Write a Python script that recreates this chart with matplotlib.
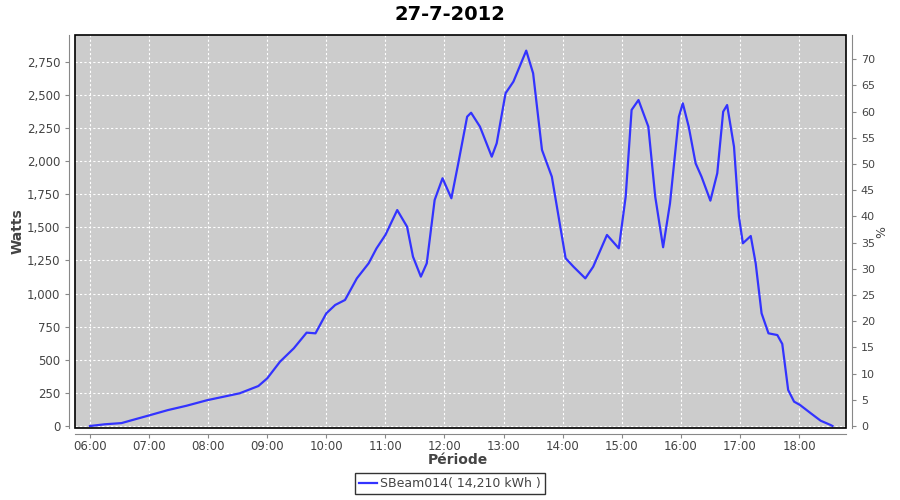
import matplotlib
matplotlib.use("Agg")
import matplotlib.pyplot as plt
from matplotlib.patches import Rectangle
from matplotlib.ticker import FuncFormatter
import numpy as np

# power readings (time of day, watts)
times = ["06:00", "06:15", "06:32", "06:43", "06:59", "07:19", "07:38", "07:59",
         "08:32", "08:51", "09:00", "09:13", "09:27", "09:40", "09:49", "10:00",
         "10:09", "10:19", "10:31", "10:43", "10:51", "11:00", "11:12", "11:22",
         "11:28", "11:36", "11:42", "11:50", "11:58", "12:07", "12:14", "12:23",
         "12:27", "12:36", "12:48", "12:53", "13:02", "13:10", "13:23", "13:30",
         "13:39", "13:49", "14:03", "14:11", "14:23", "14:31", "14:45", "14:57",
         "15:04", "15:10", "15:17", "15:27", "15:34", "15:42", "15:49", "15:58",
         "16:02", "16:08", "16:15", "16:21", "16:30", "16:37", "16:43", "16:47",
         "16:54", "16:59", "17:03", "17:11", "17:16", "17:22", "17:29", "17:38",
         "17:43", "17:49", "17:55", "18:01", "18:12", "18:22", "18:32", "18:34"]
watts = [0, 13, 22, 45, 78, 120, 153, 195,
         247, 302, 360, 486, 587, 705, 700, 851,
         914, 952, 1115, 1229, 1342, 1443, 1631, 1505,
         1279, 1128, 1229, 1707, 1871, 1720, 1984, 2336,
         2366, 2261, 2034, 2135, 2513, 2601, 2835, 2664,
         2085, 1883, 1267, 1203, 1115, 1203, 1443, 1342,
         1732, 2387, 2462, 2261, 1732, 1350, 1682, 2336,
         2437, 2261, 1984, 1883, 1702, 1909, 2374, 2424,
         2109, 1581, 1380, 1435, 1229, 851, 700, 687,
         620, 272, 184, 159, 96, 40, 8, 0]
hour_ticks = list(range(6, 19))
hour_labels = ["%02d:00" % h for h in hour_ticks]
watt_ticks = list(range(0, 2751, 250))
pct_ticks = list(range(0, 71, 5))
series_label = "SBeam014( 14,210 kWh )"

hours = np.array([int(t[:2]) + int(t[3:]) / 60 for t in times])

txt = "#444444"
axc = "#888888"

fig = plt.figure(figsize=(9, 5), dpi=100)
ax = fig.add_axes([0.0833, 0.144, 0.857, 0.786])
ax.set_facecolor("#CCCCCC")
ax.plot(hours, watts, color="#3333FF", linewidth=1.6, label=series_label)

ax.set_xlim(5.746, 18.80)
ax.set_ylim(-15, 2953)
ax.set_xticks(hour_ticks)
ax.set_xticklabels(hour_labels)
ax.set_yticks(watt_ticks)
ax.yaxis.set_major_formatter(FuncFormatter(lambda v, p: "{:,.0f}".format(v)))
ax.grid(True, color="white", linestyle=(0, (2, 2)), linewidth=0.8)
ax.set_axisbelow(True)

for s in ["top", "right"]:
    ax.spines[s].set_visible(False)
for s in ["left", "bottom"]:
    ax.spines[s].set_position(("outward", 4))
    ax.spines[s].set_color(axc)
ax.tick_params(colors=axc, labelcolor=txt, labelsize=8.5, length=3, width=0.8)
ax.tick_params(axis="x", pad=1.5)

ax.add_patch(Rectangle((0, 0), 1, 1, transform=ax.transAxes, fill=False,
                       edgecolor="black", linewidth=1.2, clip_on=False, zorder=5))

ax.set_ylabel("Watts", fontsize=10, fontweight="bold", color=txt)
ax.yaxis.set_label_coords(-0.065, 0.5)
ax.set_xlabel("Période", fontsize=10, fontweight="bold", color=txt)
ax.xaxis.set_label_coords(0.497, -0.064)

ax2 = ax.twinx()
ax2.set_ylim(-0.38, 74.6)
ax2.set_yticks(pct_ticks)
for s in ["top", "left", "bottom"]:
    ax2.spines[s].set_visible(False)
ax2.spines["right"].set_position(("outward", 4))
ax2.spines["right"].set_color(axc)
ax2.tick_params(colors=axc, labelcolor=txt, labelsize=8, length=3, width=0.8)
ax2.set_ylabel("%", fontsize=9, color=txt)
ax2.yaxis.set_label_coords(1.0376, 0.5)

fig.suptitle("27-7-2012", x=0.5, y=0.99, fontsize=14, fontweight="bold")

leg = fig.legend(loc="lower center", bbox_to_anchor=(0.5, 0.0), fontsize=9,
                 frameon=True, fancybox=False, handlelength=1.4,
                 handletextpad=0.3, borderpad=0.3)
leg.get_frame().set_edgecolor("black")
leg.get_frame().set_linewidth(1.0)
for t in leg.get_texts():
    t.set_color(txt)

fig.savefig("out.png", dpi=100)
